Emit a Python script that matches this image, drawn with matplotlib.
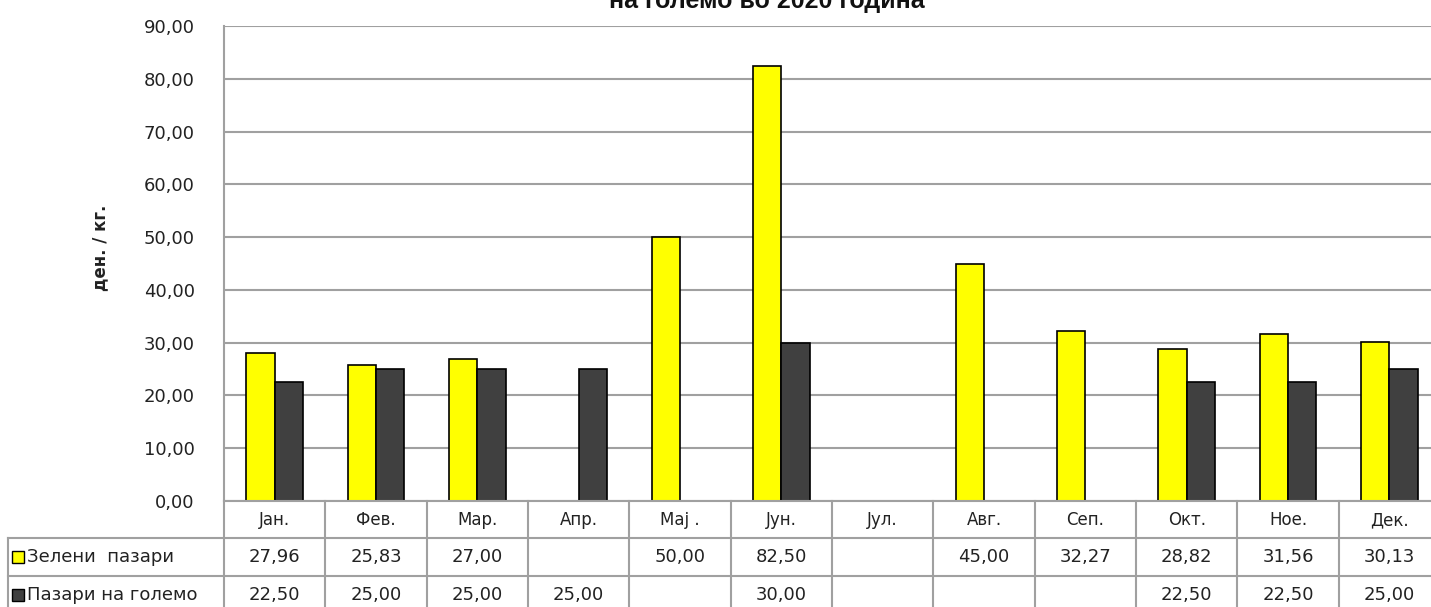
import numpy as np
import matplotlib
matplotlib.use("Agg")
import matplotlib.pyplot as plt
from matplotlib.transforms import blended_transform_factory
from matplotlib.patches import Rectangle
from matplotlib.lines import Line2D

months = ["Јан.", "Фев.", "Мар.", "Апр.", "Мај .", "Јун.", "Јул.", "Авг.", "Сеп.", "Окт.", "Ное.", "Дек."]
green_markets = [27.96, 25.83, 27.00, np.nan, 50.00, 82.50, np.nan, 45.00, 32.27, 28.82, 31.56, 30.13]
wholesale_markets = [22.50, 25.00, 25.00, 25.00, np.nan, 30.00, np.nan, np.nan, np.nan, 22.50, 22.50, 25.00]
series_names = ["Зелени  пазари", "Пазари на големо"]
series_colors = ["#FFFF00", "#404040"]
yticks = [0, 10, 20, 30, 40, 50, 60, 70, 80, 90]
title_text = "на големо во 2020 година"
ylabel_text = "ден. / кг."

W, H = 1431, 607
fig = plt.figure(figsize=(W / 100, H / 100), dpi=100)
plt.rcParams['font.family'] = ['DejaVu Sans']

def fy(py):
    return 1 - py / H

def fx(px):
    return px / W

left_px, right_px, top_px, bot_px = 224, 1440, 26, 501
ax = fig.add_axes([fx(left_px), fy(bot_px), (right_px - left_px) / W, (bot_px - top_px) / H])

x = np.arange(len(months))
bw = 0.28
ax.bar(x - bw / 2, green_markets, bw, color=series_colors[0], edgecolor="black", linewidth=1.2, zorder=3)
ax.bar(x + bw / 2, wholesale_markets, bw, color=series_colors[1], edgecolor="black", linewidth=1.2, zorder=3)

ax.set_xlim(-0.5, len(months) - 0.5)
ax.set_ylim(0, 90)
ax.set_yticks(yticks)
ax.set_yticklabels([f"{v:.2f}".replace(".", ",") for v in yticks], fontsize=13, color="#222222")
ax.tick_params(axis="y", length=0, pad=21)
ax.set_xticks([])
ax.grid(axis="y", color="#a0a0a0", linewidth=1.5, zorder=0)
for s in ["top", "right", "bottom"]:
    ax.spines[s].set_visible(False)
ax.spines["left"].set_color("#a0a0a0")
ax.spines["left"].set_linewidth(1.5)

fig.text(fx(100), fy(248), ylabel_text, rotation=90, ha="center", va="center",
         fontsize=12, fontweight="bold", color="#222222")

fig.text(fx(767), fy(8), title_text, ha="center", va="baseline",
         fontsize=18, fontweight="bold", family="Liberation Sans", color="#111111")

# Table
tr = blended_transform_factory(ax.transData, fig.transFigure)
grid_c = "#a0a0a0"
rows_y = [501, 538, 576, 614]
lw = 1.5
fig.add_artist(Line2D([fx(left_px), fx(right_px)], [fy(501), fy(501)], color=grid_c, lw=lw))
for yy in rows_y[1:3]:
    fig.add_artist(Line2D([fx(8), fx(right_px)], [fy(yy), fy(yy)], color=grid_c, lw=lw))
fig.add_artist(Line2D([fx(left_px), fx(left_px)], [fy(501), fy(614)], color=grid_c, lw=lw))
fig.add_artist(Line2D([fx(8), fx(8)], [fy(538), fy(614)], color=grid_c, lw=lw))
for i in range(len(months)):
    fig.add_artist(Line2D([i + 0.5, i + 0.5], [fy(501), fy(614)], color=grid_c, lw=lw, transform=tr))

for i, m in enumerate(months):
    fig.text(i, fy(520), m, transform=tr, ha="center", va="center", fontsize=12, color="#222222")
    for vals, yy in ((green_markets, 557), (wholesale_markets, 595)):
        v = vals[i]
        if not np.isnan(v):
            fig.text(i, fy(yy), f"{v:.2f}".replace(".", ","), transform=tr, ha="center", va="center",
                     fontsize=13, color="#222222")

for name, col, yy in zip(series_names, series_colors, (557, 595)):
    fig.add_artist(Rectangle((fx(12), fy(yy + 6)), 12 / W, 12 / H, facecolor=col, edgecolor="black", lw=1.0))
    fig.text(fx(27), fy(yy), name, ha="left", va="center", fontsize=13, color="#222222")

fig.savefig("out.png", dpi=100)
